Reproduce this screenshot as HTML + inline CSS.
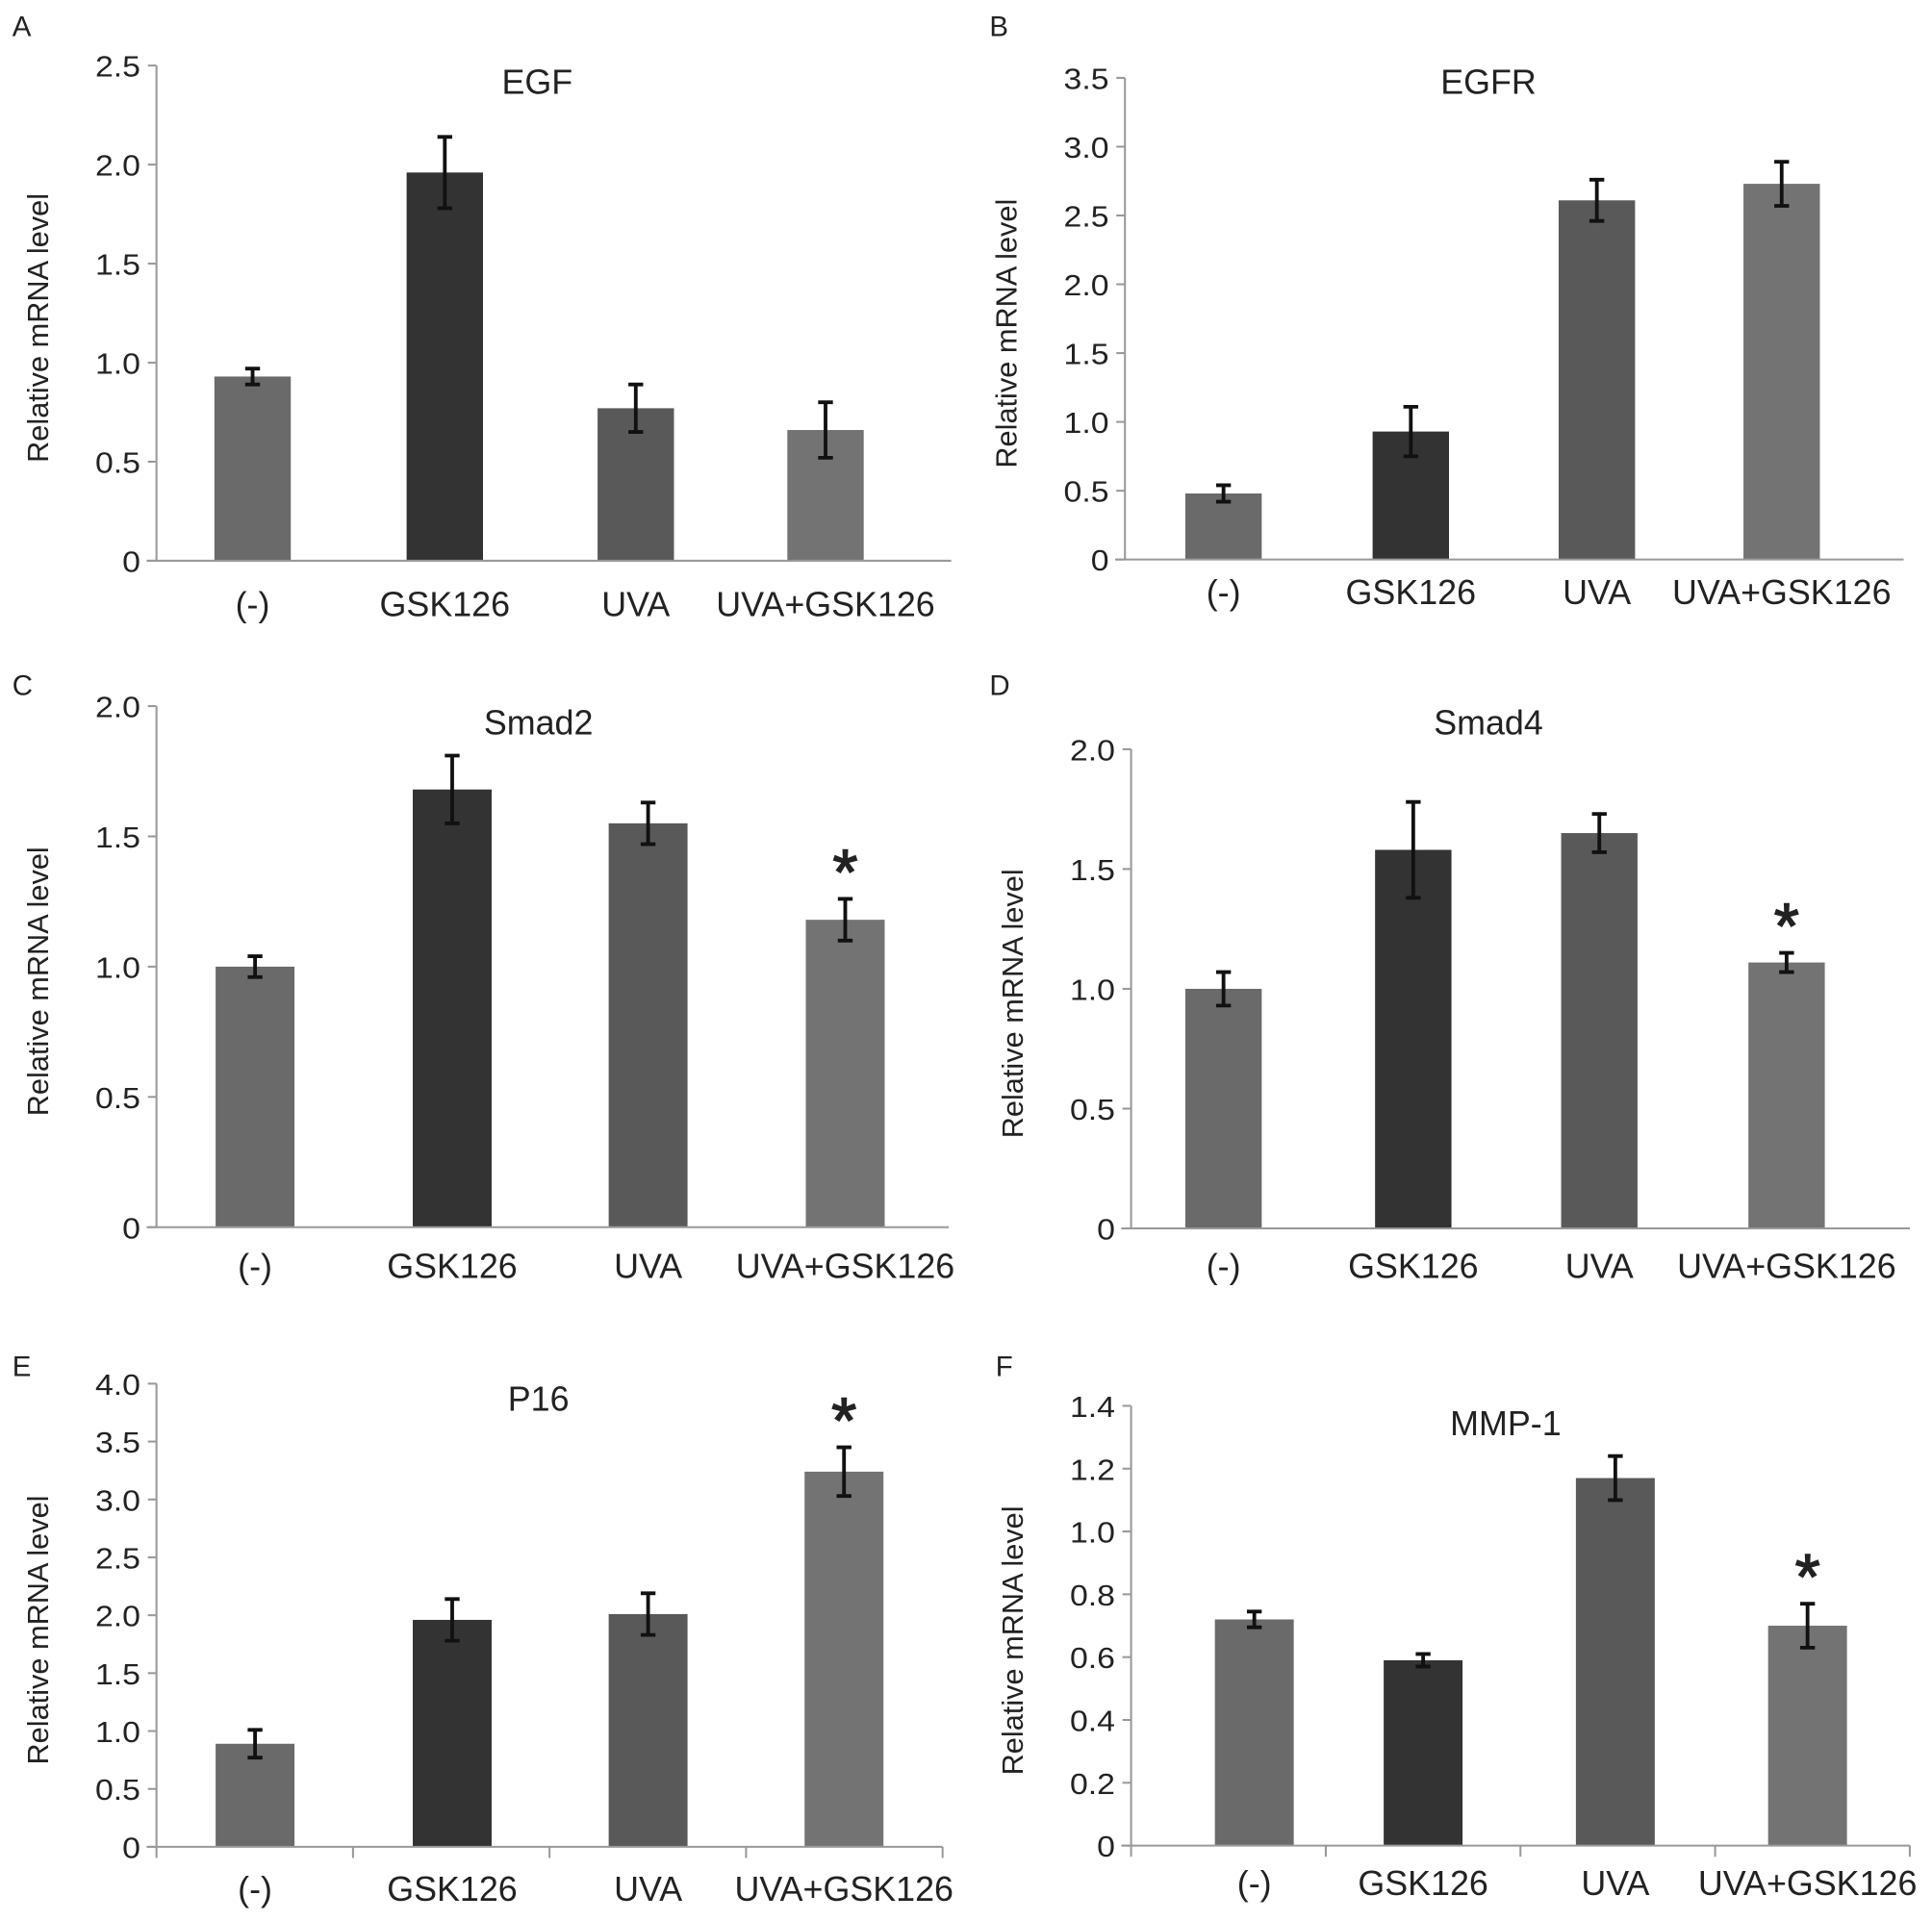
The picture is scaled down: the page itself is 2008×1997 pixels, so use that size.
<!DOCTYPE html>
<html><head><meta charset="utf-8">
<style>
html,body{margin:0;padding:0;background:#fff;}
svg{display:block;}
text{font-family:"Liberation Sans",sans-serif;fill:#222;}
</style></head>
<body>
<svg id="fig" width="2008" height="1997" viewBox="0 0 1568 1559" xmlns="http://www.w3.org/2000/svg"></svg>
<script>
const categories = ["(-)", "GSK126", "UVA", "UVA+GSK126"];
const barColors = ["#6a6a6a", "#333333", "#595959", "#737373"];

const egfValues = [0.93, 1.96, 0.77, 0.66];
const egfErrors = [0.04, 0.18, 0.12, 0.14];
const egfrValues = [0.48, 0.93, 2.61, 2.73];
const egfrErrors = [0.06, 0.18, 0.15, 0.16];
const smad2Values = [1.00, 1.68, 1.55, 1.18];
const smad2Errors = [0.04, 0.13, 0.08, 0.08];
const smad4Values = [1.00, 1.58, 1.65, 1.11];
const smad4Errors = [0.07, 0.20, 0.08, 0.04];
const p16Values = [0.89, 1.96, 2.01, 3.24];
const p16Errors = [0.12, 0.18, 0.18, 0.21];
const mmp1Values = [0.72, 0.59, 1.17, 0.70];
const mmp1Errors = [0.025, 0.02, 0.07, 0.07];

const egfTicks = ["0", "0.5", "1.0", "1.5", "2.0", "2.5"];
const egfrTicks = ["0", "0.5", "1.0", "1.5", "2.0", "2.5", "3.0", "3.5"];
const smadTicks = ["0", "0.5", "1.0", "1.5", "2.0"];
const p16Ticks = ["0", "0.5", "1.0", "1.5", "2.0", "2.5", "3.0", "3.5", "4.0"];
const mmpTicks = ["0", "0.2", "0.4", "0.6", "0.8", "1.0", "1.2", "1.4"];

const smad2Stars = [false, false, false, true];
const smad4Stars = [false, false, false, true];
const p16Stars = [false, false, false, true];
const mmp1Stars = [false, false, false, true];
const noStars = [false, false, false, false];

const svg = document.getElementById('fig');
const NS = "http://www.w3.org/2000/svg";
function mk(tag, attrs, parent) {
  const e = document.createElementNS(NS, tag);
  for (const k in attrs) e.setAttribute(k, attrs[k]);
  parent.appendChild(e);
  return e;
}
function ctext(x, y, size, sx, anchor, str, parent) {
  const t = mk('text', {x:0, y:0, 'font-size':size, 'text-anchor':anchor, transform:`translate(${x},${y}) scale(${sx},1)`}, parent);
  t.textContent = str;
  return t;
}

const panels = [
  {id:"a", letter:"A", lx:10, ly:29, title:"EGF", tx:436, ty:76, ax:127, top:53, zero:455, right:772, max:2.5, ticks:egfTicks, vals:egfValues, errs:egfErrors, stars:noStars, xticks:false, labY:500, centers:[205,361,516,670], barW:62},
  {id:"b", letter:"B", lx:803, ly:29, title:"EGFR", tx:1208, ty:76, ax:913, top:63, zero:454, right:1545, max:3.5, ticks:egfrTicks, vals:egfrValues, errs:egfrErrors, stars:noStars, xticks:false, labY:490, centers:[993,1145,1296,1446], barW:62},
  {id:"c", letter:"C", lx:10, ly:564, title:"Smad2", tx:437, ty:596, ax:127, top:573, zero:996, right:770, max:2.0, ticks:smadTicks, vals:smad2Values, errs:smad2Errors, stars:smad2Stars, xticks:false, labY:1037, centers:[207,367,526,686], barW:64},
  {id:"d", letter:"D", lx:803, ly:564, title:"Smad4", tx:1208, ty:596, ax:918, top:608, zero:997, right:1550, max:2.0, ticks:smadTicks, vals:smad4Values, errs:smad4Errors, stars:smad4Stars, xticks:false, labY:1037, centers:[993,1147,1298,1450], barW:62},
  {id:"e", letter:"E", lx:10, ly:1117, title:"P16", tx:437, ty:1145, ax:127, top:1123, zero:1499, right:765, max:4.0, ticks:p16Ticks, vals:p16Values, errs:p16Errors, stars:p16Stars, xticks:true, labY:1543, centers:[207,367,526,685], barW:64},
  {id:"f", letter:"F", lx:808, ly:1117, title:"MMP-1", tx:1222, ty:1165, ax:918, top:1141, zero:1498, right:1550, max:1.4, ticks:mmpTicks, vals:mmp1Values, errs:mmp1Errors, stars:mmp1Stars, xticks:true, labY:1538, centers:[1018,1155,1311,1467], barW:64}
];

panels.forEach(p => {
  const g = mk('g', {}, svg);
  
  
  const yScale = v => p.zero - (v / p.max) * (p.zero - p.top);

  const letter = mk('text', {x:p.lx, y:p.ly, 'font-size':23}, g);
  letter.textContent = p.letter;
  
  

  const title = ctext(p.tx, p.ty, 28, 1, 'middle', p.title, g);
  
  

  const yt = mk('text', {x:0, y:0, 'font-size':24, 'text-anchor':'middle', transform:`translate(${p.ax-88},${(p.top+p.zero)/2+12}) rotate(-90)`}, g);
  yt.textContent = "Relative mRNA level";
  
  

  p.vals.forEach((v, i) => {
    const cx = p.centers[i];
    const r = mk('rect', {x:cx - p.barW/2, y:yScale(v), width:p.barW, height:p.zero - yScale(v), fill:barColors[i]}, g);
    
    
    const e = p.errs[i];
    const y1 = yScale(v + e), y2 = yScale(v - e);
    const eb = mk('path', {d:`M${cx},${y1}V${y2}M${cx-6},${y1}H${cx+6}M${cx-6},${y2}H${cx+6}`, stroke:'#111', 'stroke-width':3, fill:'none'}, g);
    
    
    if (p.stars[i]) {
      const s = mk('text', {x:cx, y:y1 - 4, 'font-size':52, 'text-anchor':'middle', stroke:'#222', 'stroke-width':1.2}, g);
      s.textContent = "*";
      
      
    }
  });

  const yAxis = mk('line', {x1:p.ax, y1:p.top, x2:p.ax, y2:p.zero, stroke:'#999', 'stroke-width':1.6}, g);
  
  
  const xAxis = mk('line', {x1:p.ax - 8, y1:p.zero, x2:p.right, y2:p.zero, stroke:'#999', 'stroke-width':1.6}, g);
  
  

  p.ticks.forEach(t => {
    const v = parseFloat(t);
    const y = yScale(v);
    mk('line', {x1:p.ax - 7, y1:y, x2:p.ax, y2:y, stroke:'#999', 'stroke-width':1.6}, g);
    const tl = ctext(p.ax - 13, y + 9, 24, 1.1, 'end', t, g);
    
    
  });

  if (p.xticks) {
    const step = (p.right - p.ax) / categories.length;
    for (let k = 0; k <= categories.length; k++) {
      const x = p.ax + k * step;
      mk('line', {x1:x, y1:p.zero, x2:x, y2:p.zero + 9, stroke:'#999', 'stroke-width':1.6}, g);
    }
  }

  categories.forEach((c, i) => {
    const cl = ctext(p.centers[i], p.labY, 28, 1, 'middle', c, g);
    
    
  });
});
</script>
</body></html>
